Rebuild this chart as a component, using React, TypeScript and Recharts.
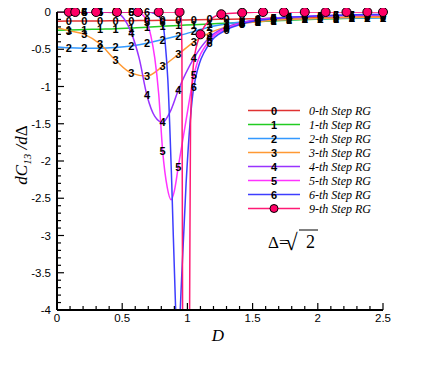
import React from 'react'
import { Legend, Line, LineChart, XAxis, YAxis } from 'recharts'

// marker positions (D) shared by the numbered curves
const D_GRID = [0.09, 0.21, 0.33, 0.45, 0.57, 0.69, 0.81, 0.93, 1.05, 1.17, 1.30, 1.42, 1.54, 1.66, 1.78, 1.90, 2.02, 2.14, 2.26, 2.38, 2.50]

const step0 = [-0.122, -0.12, -0.12, -0.118, -0.116, -0.114, -0.112, -0.108, -0.104, -0.1, -0.097, -0.094, -0.09, -0.087, -0.084, -0.08, -0.077, -0.074, -0.07, -0.067, -0.064]
const step1 = [-0.24, -0.235, -0.23, -0.225, -0.215, -0.205, -0.19, -0.18, -0.17, -0.16, -0.15, -0.14, -0.13, -0.12, -0.11, -0.1, -0.095, -0.09, -0.085, -0.08, -0.075]
const step2 = [-0.48, -0.485, -0.485, -0.475, -0.455, -0.42, -0.37, -0.32, -0.26, -0.2, -0.16, -0.135, -0.12, -0.11, -0.1, -0.095, -0.09, -0.085, -0.082, -0.08, -0.078]
const step3 = [-0.25, -0.3, -0.43, -0.65, -0.82, -0.86, -0.73, -0.57, -0.4, -0.28, -0.2, -0.155, -0.13, -0.11, -0.1, -0.09, -0.085, -0.08, -0.075, -0.072, -0.07]
const step4 = [0, 0, 0, -0.01, -0.28, -1.12, -1.48, -1.05, -0.62, -0.34, -0.2, -0.14, -0.1, -0.08, -0.07, -0.06, -0.055, -0.05, -0.045, -0.042, -0.04]
const step5 = [0, 0, 0, 0, 0, -0.13, -1.86, -2.08, -0.85, -0.38, -0.22, -0.15, -0.11, -0.085, -0.07, -0.06, -0.05, -0.045, -0.04, -0.037, -0.035]
const step6 = [0, 0, 0, 0, 0, 0, -0.14, -4.6, -1.0, -0.42, -0.24, -0.16, -0.115, -0.09, -0.07, -0.06, -0.05, -0.045, -0.04, -0.035, -0.032]

// extra points between markers (start value and the dips)
const step0ExD = [0]
const step0ExV = [-0.124]
const step1ExD = [0]
const step1ExV = [-0.245]
const step2ExD = [0]
const step2ExV = [-0.47]
const step3ExD = [0]
const step3ExV = [-0.21]
const step4ExD = [0, 0.51, 0.63, 0.75, 0.87]
const step4ExV = [0, -0.08, -0.62, -1.4, -1.33]
const step5ExD = [0, 0.64, 0.72, 0.75, 0.78, 0.845, 0.875, 0.9, 0.99]
const step5ExV = [0, -0.02, -0.32, -0.62, -1.1, -2.35, -2.52, -2.4, -1.45]
const step6ExD = [0, 0.75, 0.83, 0.85, 0.88, 0.91, 0.945, 0.99]
const step6ExV = [0, -0.02, -0.42, -0.91, -2.3, -4.0, -4.0, -2.3]

// 9-th step: circle markers + the steep dip
const CIRCLE_D = [0.09, 0.14, 0.30, 0.46, 0.62, 0.78, 0.94, 1.10, 1.26, 1.42, 1.58, 1.74, 1.90, 2.06, 2.22, 2.38, 2.50]
const step9 = [0, 0, 0, 0, 0, 0, 0, -0.3, -0.03, -0.01, 0, 0, 0, 0, 0, 0, 0]
const step9ExD = [0, 0.95, 0.958, 0.963, 0.99, 1.017, 1.024, 1.05, 1.18]
const step9ExV = [0, -0.03, -0.5, -4, -9, -4, -1.5, -0.65, -0.1]

const X_MAJOR = [0, 0.5, 1, 1.5, 2, 2.5]
const Y_MAJOR = [0, -0.5, -1, -1.5, -2, -2.5, -3, -3.5, -4]
const X_TICKS = Array.from({ length: 26 }, (_, i) => Math.round(i) / 10)
const Y_TICKS = Array.from({ length: 41 }, (_, i) => -i / 10)

type Pt = { d: number, v: number }

const toPts = (ds: number[], vs: number[]): Pt[] => ds.map((d, i) => ({ d, v: vs[i] }))
const curve = (ds: number[], vs: number[], exD: number[], exV: number[]) =>
  [...toPts(ds, vs), ...toPts(exD, exV)].sort((a, b) => a.d - b.d)

const SERIES = [
  { key: 's0', sym: '0', name: '0-th Step RG', color: '#e03232', vals: step0, exD: step0ExD, exV: step0ExV },
  { key: 's1', sym: '1', name: '1-th Step RG', color: '#22cc22', vals: step1, exD: step1ExD, exV: step1ExV },
  { key: 's2', sym: '2', name: '2-th Step RG', color: '#3399ff', vals: step2, exD: step2ExD, exV: step2ExV },
  { key: 's3', sym: '3', name: '3-th Step RG', color: '#ff9933', vals: step3, exD: step3ExD, exV: step3ExV },
  { key: 's4', sym: '4', name: '4-th Step RG', color: '#9933ff', vals: step4, exD: step4ExD, exV: step4ExV },
  { key: 's5', sym: '5', name: '5-th Step RG', color: '#ff33ff', vals: step5, exD: step5ExD, exV: step5ExV },
  { key: 's6', sym: '6', name: '6-th Step RG', color: '#3d3dff', vals: step6, exD: step6ExD, exV: step6ExV },
]
const PINK = '#ff1a75'

const SANS = 'Liberation Sans, Arial, sans-serif'
const SERIF = 'Liberation Serif, Times New Roman, serif'

const isMajor = (v: number) => Math.abs(v * 2 - Math.round(v * 2)) < 1e-6

const XTick = (props: any) => {
  const { x, y, payload } = props
  const v = payload.value
  const major = isMajor(v)
  return (
    <g>
      <line x1={x} x2={x} y1={y} y2={y - (major ? 7 : 4)} stroke="#000" strokeWidth={1.2}/>
      {major && <text x={x} y={y + 12} textAnchor="middle" fontSize={11.5} fontFamily={SANS}>{String(X_MAJOR.find(m => Math.abs(m - v) < 1e-6))}</text>}
    </g>
  )
}

const YTick = (props: any) => {
  const { x, y, payload } = props
  const v = payload.value
  const major = isMajor(v)
  return (
    <g>
      <line x1={x} x2={x + (major ? 7 : 4)} y1={y} y2={y} stroke="#000" strokeWidth={1.2}/>
      {major && <text x={x - 6} y={y + 4} textAnchor="end" fontSize={11.5} fontFamily={SANS}>{String(Y_MAJOR.find(m => Math.abs(m - v) < 1e-6))}</text>}
    </g>
  )
}

const numberDot = (sym: string, key: string) => (p: any) => (
  <text key={`${key}-${p.index}`} x={p.cx} y={p.cy + 4} textAnchor="middle" fontSize={11} fontWeight="bold" fontFamily={SANS} fill="#000">{sym}</text>
)

const yTitle = () => (
  <text transform="rotate(-90 19 147)" x={19} y={147} textAnchor="middle" fontFamily={SERIF} fontSize={17}>
    <tspan fontStyle="italic">dC</tspan>
    <tspan fontStyle="italic" fontSize={11} dy={4}>13</tspan>
    <tspan fontStyle="italic" dy={-4}> /d</tspan>
    <tspan>Δ</tspan>
  </text>
)

const xTitle = () => (
  <text x={210} y={333} textAnchor="middle" fontFamily={SERIF} fontStyle="italic" fontSize={17}>D</text>
)

const LegendBox = () => (
  <svg width={428} height={380} style={{ display: 'block' }}>
    {SERIES.map((s, i) => (
      <g key={s.key}>
        <line x1={240} x2={292} y1={102.5 + i * 14} y2={102.5 + i * 14} stroke={s.color} strokeWidth={1.5}/>
        <text x={266} y={106.5 + i * 14} textAnchor="middle" fontSize={11} fontWeight="bold" fontFamily={SANS}>{s.sym}</text>
        <text x={301} y={106.5 + i * 14} fontSize={12} fontStyle="italic" fontFamily={SERIF}>{s.name}</text>
      </g>
    ))}
    <line x1={240} x2={292} y1={200.5} y2={200.5} stroke={PINK} strokeWidth={1.5}/>
    <circle cx={266} cy={200.5} r={4} fill="#ff0066" stroke="#000" strokeWidth={1}/>
    <text x={301} y={204.5} fontSize={12} fontStyle="italic" fontFamily={SERIF}>9-th Step RG</text>
    <text x={260} y={240} fontSize={17} fontFamily={SERIF}>Δ=</text>
    <text x={277} y={242} fontSize={23} fontFamily={SERIF}>√</text>
    <line x1={291} x2={310} y1={222} y2={222} stroke="#000" strokeWidth={1}/>
    <text x={298} y={240} fontSize={18} fontFamily={SERIF}>2</text>
  </svg>
)

export default function App() {
  return (
    <div style={{ width: 428, height: 380, position: 'relative' }}>
      <LineChart width={428} height={380} margin={{ top: 4, right: 53, bottom: 48, left: 9 }}>
        <XAxis dataKey="d" type="number" domain={[0, 2.5]} ticks={X_TICKS} interval={0}
          tick={<XTick/>} tickLine={false} tickSize={0} tickMargin={0} height={30}
          axisLine={{ stroke: '#000', strokeWidth: 2 }} label={xTitle} allowDuplicatedCategory={false}/>
        <XAxis xAxisId="top" orientation="top" dataKey="d" type="number" domain={[0, 2.5]} height={0}
          tick={false} tickLine={false} axisLine={{ stroke: '#000', strokeWidth: 2 }}/>
        <YAxis type="number" domain={[-4, 0]} ticks={Y_TICKS} interval={0} allowDataOverflow
          tick={<YTick/>} tickLine={false} tickSize={0} tickMargin={0} width={40}
          axisLine={{ stroke: '#000', strokeWidth: 2 }} label={yTitle}/>
        <YAxis yAxisId="right" orientation="right" type="number" domain={[-4, 0]} width={0}
          tick={false} tickLine={false} axisLine={{ stroke: '#000', strokeWidth: 2 }}/>
        <YAxis yAxisId="m" type="number" domain={[-4, 0]} hide/>
        <Legend layout="vertical" align="center" verticalAlign="middle" content={<LegendBox/>}
          wrapperStyle={{ left: 0, top: 0, width: 428, height: 380, pointerEvents: 'none' }}/>

        {SERIES.map(s => (
          <Line key={s.key} data={curve(D_GRID, s.vals, s.exD, s.exV)} dataKey="v" type="monotone"
            stroke={s.color} strokeWidth={1.5} dot={false} activeDot={false} isAnimationActive={false} legendType="none"/>
        ))}
        <Line key="s9" data={curve(CIRCLE_D, step9, step9ExD, step9ExV)} dataKey="v" type="monotone"
          stroke={PINK} strokeWidth={1.5} dot={false} activeDot={false} isAnimationActive={false} legendType="none"/>

        {SERIES.map(s => (
          <Line key={`${s.key}-m`} yAxisId="m" data={toPts(D_GRID, s.vals).filter(p => p.v >= -4)} dataKey="v"
            stroke="none" dot={numberDot(s.sym, s.key)} activeDot={false} isAnimationActive={false} legendType="none"/>
        ))}
        <Line key="s9-m" yAxisId="m" data={toPts(CIRCLE_D, step9)} dataKey="v" stroke="none"
          dot={{ r: 4.5, fill: '#ff0066', stroke: '#000', strokeWidth: 1 }} activeDot={false}
          isAnimationActive={false} legendType="none"/>
      </LineChart>
    </div>
  )
}
